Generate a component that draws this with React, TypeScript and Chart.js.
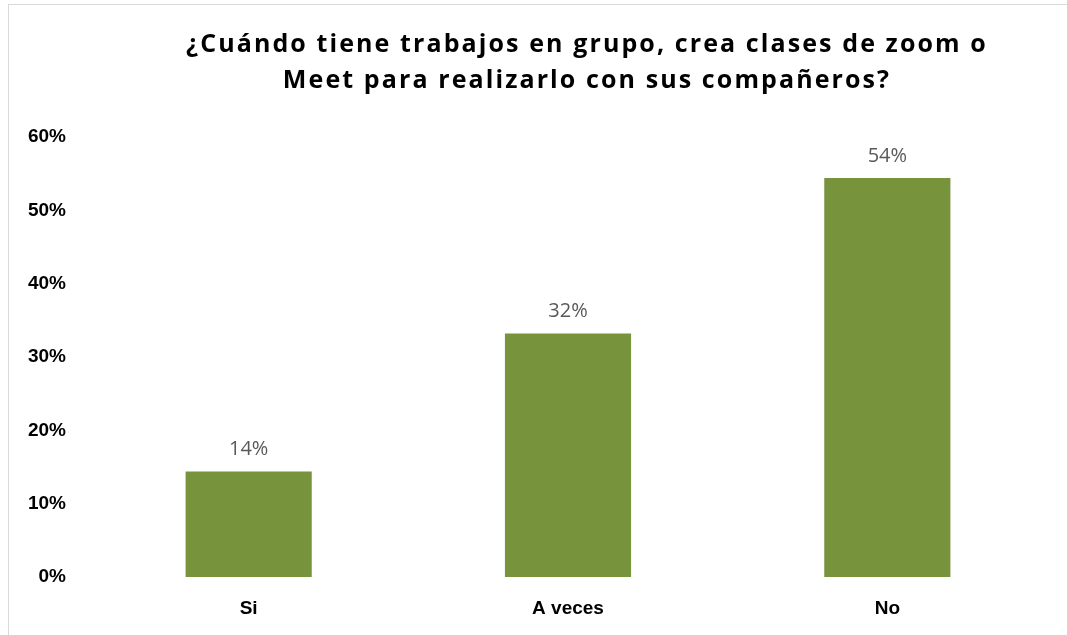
import React, { useEffect, useRef } from "react";
import { Chart, registerables } from "chart.js";

Chart.register(...registerables);

const categories = ["Si", "A veces", "No"];
const values = [14.4, 33.2, 54.4];
const valueLabels = ["14%", "32%", "54%"];
const yMin = 0;
const yMax = 60;
const yStep = 10;
const titleLines = [
  "¿Cuándo tiene trabajos en grupo, crea clases de zoom o",
  "Meet para realizarlo con sus compañeros?",
];

const BAR_COLOR = "#77933C";

const titlePlugin = {
  id: "customTitle",
  afterDraw(chart: any) {
    const ctx = chart.ctx;
    ctx.save();
    ctx.font = "bold 25px 'Open Sans'";
    (ctx as any).letterSpacing = "2.1px";
    ctx.fillStyle = "#000000";
    ctx.textAlign = "center";
    ctx.textBaseline = "alphabetic";
    ctx.fillText(titleLines[0], 587, 52);
    ctx.fillText(titleLines[1], 587, 88);
    ctx.restore();
  },
};

const valueLabelPlugin = {
  id: "valueLabels",
  afterDatasetsDraw(chart: any) {
    const ctx = chart.ctx;
    const meta = chart.getDatasetMeta(0);
    ctx.save();
    ctx.font = "20px 'Open Sans'";
    ctx.fillStyle = "#595959";
    ctx.textAlign = "center";
    ctx.textBaseline = "middle";
    meta.data.forEach((el: any, i: number) => {
      ctx.fillText(valueLabels[i], el.x, el.y - 22);
    });
    ctx.restore();
  },
};

export default function App() {
  const ref = useRef<HTMLCanvasElement | null>(null);

  useEffect(() => {
    document.body.style.margin = "0";
    const canvas = ref.current;
    if (!canvas) return;
    const chart = new Chart(canvas, {
      type: "bar",
      data: {
        labels: categories,
        datasets: [
          {
            data: values,
            backgroundColor: BAR_COLOR,
            borderWidth: 0,
            barPercentage: 0.395,
            categoryPercentage: 1,
          },
        ],
      },
      options: {
        responsive: false,
        animation: false,
        layout: { padding: { top: 137, left: 20, right: 20, bottom: 0 } },
        plugins: {
          legend: { display: false },
          tooltip: { enabled: false },
          title: { display: false },
        },
        scales: {
          x: {
            grid: { display: false, drawTicks: false },
            border: { display: false },
            ticks: {
              color: "#000000",
              font: { family: "'Liberation Sans'", size: 19, weight: "bold" },
              padding: 20,
            },
            afterFit(scale: any) {
              scale.height = 58;
            },
          },
          y: {
            min: yMin,
            max: yMax,
            grid: { display: false, drawTicks: false },
            border: { display: false },
            ticks: {
              stepSize: yStep,
              color: "#000000",
              font: { family: "'Liberation Sans'", size: 19, weight: "bold" },
              padding: 23,
              callback: (v: any) => v + "%",
            },
            afterFit(scale: any) {
              scale.width = 69;
            },
          },
        },
      },
      plugins: [titlePlugin, valueLabelPlugin],
    });
    return () => chart.destroy();
  }, []);

  return (
    <div style={{ position: "relative", width: 1067, height: 635, overflow: "hidden", background: "#ffffff" }}>
      <div
        style={{
          position: "absolute",
          left: 8,
          top: 4,
          width: 1100,
          height: 700,
          border: "1px solid #d9d9d9",
          boxSizing: "border-box",
        }}
      />
      <canvas
        ref={ref}
        width={1067}
        height={635}
        style={{ position: "absolute", left: 0, top: 0, width: 1067, height: 635 }}
      />
    </div>
  );
}
